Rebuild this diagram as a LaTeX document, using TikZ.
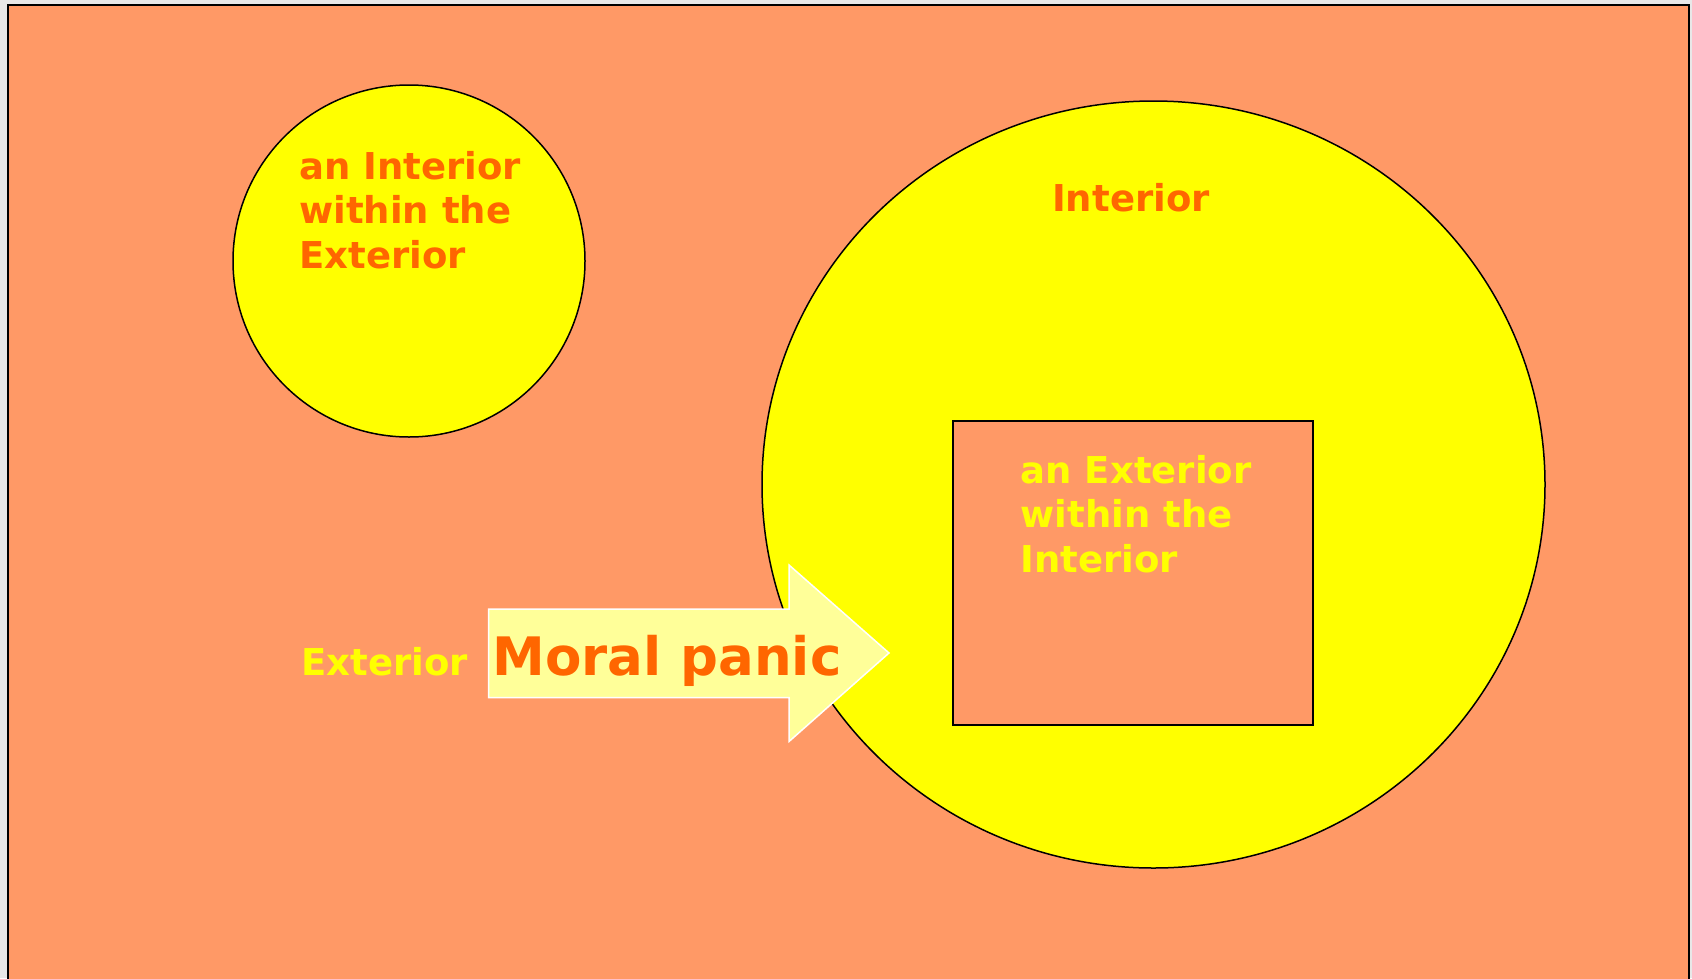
\documentclass[tikz,border=0pt]{standalone}
\usepackage{fontspec}
\setmainfont{DejaVu Sans}
\definecolor{bgsalmon}{HTML}{FF9966}
\definecolor{txtorange}{HTML}{FF6600}
\definecolor{brightyellow}{HTML}{FFFF00}
\definecolor{paleyellow}{HTML}{FFFF99}
\definecolor{margingray}{HTML}{E8E8E8}
\begin{document}
\begin{tikzpicture}[x=1pt,y=-1pt,
  outline/.style={draw=black,line width=1.5pt},
  lbl/.style={anchor=base west,inner sep=0pt,align=left,font=\bfseries\fontsize{37}{44.5}\selectfont},
  orangetxt/.style={lbl,text=txtorange},
  yellowtxt/.style={lbl,text=brightyellow}]
\useasboundingbox (0,0) rectangle (1692,978);
\fill[margingray] (0,0) rectangle (1692,978);
% page
\filldraw[fill=bgsalmon,draw=black,line width=2pt] (8,5) rectangle (1689,990);
% small circle
\filldraw[outline,fill=brightyellow] (409,261) circle [radius=176];
% big ellipse
\filldraw[outline,fill=brightyellow] (1153.5,484.5) ellipse [x radius=391.5,y radius=383.5];
% inner square
\filldraw[outline,fill=bgsalmon] (953,421) rectangle (1313,725);
% arrow
\filldraw[fill=paleyellow,draw=white,line width=1.5pt]
  (488.5,609) -- (789,609) -- (789,565) -- (889,653) -- (789,741.5) -- (789,697.5) -- (488.5,697.5) -- cycle;
% texts (base anchor = baseline of last line)
\node[orangetxt] (intext) at (299,268) {an Interior\\within the\\Exterior};
\node[orangetxt] (interior) at (1052,211.5) {Interior};
\node[yellowtxt] (exterior) at (301,675) {Exterior};
\node[yellowtxt] (extint) at (1020.5,572) {an Exterior\\within the\\Interior};
\node[anchor=base west,inner sep=0pt,text=txtorange,font=\bfseries\fontsize{53}{60}\selectfont] (panic) at (492.5,675) {Moral panic};
\end{tikzpicture}
\end{document}
